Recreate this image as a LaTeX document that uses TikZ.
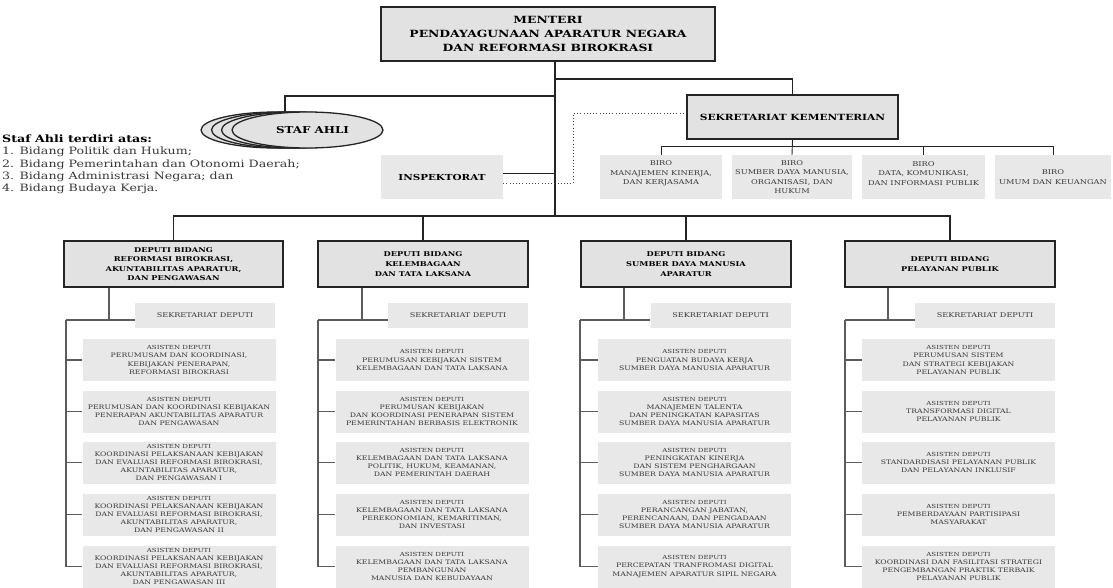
\documentclass[tikz,border=0pt]{standalone}
\usepackage{fontspec}
\setmainfont{DejaVu Serif}[FakeStretch=1.25]
\usetikzlibrary{backgrounds,shapes.geometric}
\definecolor{boxgray}{HTML}{E2E2E2}
\definecolor{lightbox}{HTML}{E8E8E8}
\definecolor{linedark}{HTML}{242424}
\definecolor{sublinec}{HTML}{5C5C5C}
\definecolor{txtgray}{HTML}{383838}
\begin{document}
\begin{tikzpicture}[x=1pt,y=-1pt,
  mainline/.style={draw=linedark,line width=1.8pt},
  subline/.style={draw=sublinec,line width=1.1pt},
  busline/.style={draw=linedark,line width=0.9pt},
  dotline/.style={draw=linedark!85,line width=0.9pt,dash pattern=on 0.9pt off 2.3pt},
  headbox/.style={draw=linedark,line width=1.8pt,fill=boxgray,inner sep=0pt,align=center},
  depbox/.style={headbox,minimum width=210pt,minimum height=46pt,
     font=\fontsize{6.6}{9.6}\selectfont\bfseries},
  stafell/.style={ellipse,draw=linedark,line width=1.3pt,fill=boxgray,
     minimum width=151pt,minimum height=36pt,inner sep=0pt},
  plainbox/.style={fill=lightbox,inner sep=0pt,align=center,text=txtgray},
  birobox/.style={plainbox,minimum height=44pt,font=\fontsize{6.6}{9.3}\selectfont},
  birotext/.style={inner sep=0pt,align=center,text=txtgray,font=\fontsize{6.6}{9.3}\selectfont},
  sekdbox/.style={plainbox,minimum width=140pt,minimum height=25pt,font=\fontsize{6.5}{8}\selectfont},
  asbox/.style={plainbox,minimum width=193pt,minimum height=42pt,font=\fontsize{6.2}{8.2}\selectfont},
]
\newcommand{\asd}{{\fontsize{5.6}{8.2}\selectfont ASISTEN DEPUTI}}
\useasboundingbox (0,0) rectangle (1113,587);

% ---------- top level ----------
\node[headbox,minimum width=334pt,minimum height=54pt,
  font=\fontsize{9.9}{14}\selectfont\bfseries] (menteri) at (548,34)
  {MENTERI\\PENDAYAGUNAAN APARATUR NEGARA\\DAN REFORMASI BIROKRASI};

\node[headbox,minimum width=211pt,minimum height=44pt,
  font=\fontsize{8.5}{10}\selectfont\bfseries] (sekr) at (792.5,117) {SEKRETARIAT KEMENTERIAN};

\node[stafell] (staf3) at (276.5,130) {};
\node[stafell] (staf2) at (287,130) {};
\node[stafell] (staf1) at (297,130) {};
\node[stafell,font=\fontsize{9.5}{11}\selectfont\bfseries] (staf) at (307.5,130) {\hspace*{10pt}STAF AHLI};

\node[anchor=west,align=left,inner sep=0pt,font=\fontsize{10.1}{12.3}\selectfont,text=txtgray] (stafnote) at (2,164.5)
  {\textbf{\color{black}Staf Ahli terdiri atas:}\\
   1. Bidang Politik dan Hukum;\\
   2. Bidang Pemerintahan dan Otonomi Daerah;\\
   3. Bidang Administrasi Negara; dan\\
   4. Bidang Budaya Kerja.};

\node[plainbox,minimum width=122pt,minimum height=44pt,text=black,
  font=\fontsize{8.3}{10}\selectfont\bfseries] (insp) at (442,177) {INSPEKTORAT};

\node[birobox,minimum width=122pt] (b1) at (661,177) {};
\node[birotext] (b1t) at (661,173.5) {BIRO\\MANAJEMEN KINERJA,\\DAN KERJASAMA};
\node[birobox,minimum width=120pt] (b2) at (792,177) {BIRO\\SUMBER DAYA MANUSIA,\\ORGANISASI, DAN\\HUKUM};
\node[birobox,minimum width=123pt] (b3) at (923.5,177) {};
\node[birotext] (b3t) at (923.5,173.5) {BIRO\\DATA, KOMUNIKASI,\\DAN INFORMASI PUBLIK};
\node[birobox,minimum width=116pt] (b4) at (1053,177) {BIRO\\UMUM DAN KEUANGAN};

% ---------- deputi ----------
\node[depbox,minimum width=219pt] (d1) at (173.5,264)
  {DEPUTI BIDANG\\REFORMASI BIROKRASI,\\AKUNTABILITAS APARATUR,\\DAN PENGAWASAN};
\node[depbox] (d2) at (423,264) {DEPUTI BIDANG\\KELEMBAGAAN\\DAN TATA LAKSANA};
\node[depbox] (d3) at (686,264) {DEPUTI BIDANG\\SUMBER DAYA MANUSIA\\APARATUR};
\node[depbox] (d4) at (950,264) {DEPUTI BIDANG\\PELAYANAN PUBLIK};

\node[sekdbox] (s1) at (205,315.5) {SEKRETARIAT DEPUTI};
\node[sekdbox] (s2) at (458,315.5) {SEKRETARIAT DEPUTI};
\node[sekdbox] (s3) at (720.5,315.5) {SEKRETARIAT DEPUTI};
\node[sekdbox] (s4) at (985,315.5) {SEKRETARIAT DEPUTI};

% column 1
\node[asbox] (a11) at (179,360) {\asd\\PERUMUSAM DAN KOORDINASI,\\KEBIJAKAN PENERAPAN,\\REFORMASI BIROKRASI};
\node[asbox] (a12) at (179,411.5) {\asd\\PERUMUSAN DAN KOORDINASI KEBIJAKAN\\PENERAPAN AKUNTABILITAS APARATUR\\DAN PENGAWASAN};
\node[asbox] (a13) at (179,462.5) {\asd\\KOORDINASI PELAKSANAAN KEBIJAKAN\\DAN EVALUASI REFORMASI BIROKRASI,\\AKUNTABILITAS APARATUR,\\DAN PENGAWASAN I};
\node[asbox] (a14) at (179,514.5) {\asd\\KOORDINASI PELAKSANAAN KEBIJAKAN\\DAN EVALUASI REFORMASI BIROKRASI,\\AKUNTABILITAS APARATUR,\\DAN PENGAWASAN II};
\node[asbox] (a15) at (179,566.5) {\asd\\KOORDINASI PELAKSANAAN KEBIJAKAN\\DAN EVALUASI REFORMASI BIROKRASI,\\AKUNTABILITAS APARATUR,\\DAN PENGAWASAN III};
% column 2
\node[asbox] (a21) at (432,360) {\asd\\PERUMUSAN KEBIJAKAN SISTEM\\KELEMBAGAAN DAN TATA LAKSANA};
\node[asbox] (a22) at (432,411.5) {\asd\\PERUMUSAN KEBIJAKAN\\DAN KOORDINASI PENERAPAN SISTEM\\PEMERINTAHAN BERBASIS ELEKTRONIK};
\node[asbox] (a23) at (432,462.5) {\asd\\KELEMBAGAAN DAN TATA LAKSANA\\POLITIK, HUKUM, KEAMANAN,\\DAN PEMERINTAH DAERAH};
\node[asbox] (a24) at (432,514.5) {\asd\\KELEMBAGAAN DAN TATA LAKSANA\\PEREKONOMIAN, KEMARITIMAN,\\DAN INVESTASI};
\node[asbox] (a25) at (432,566.5) {\asd\\KELEMBAGAAN DAN TATA LAKSANA\\PEMBANGUNAN\\MANUSIA DAN KEBUDAYAAN};
% column 3
\node[asbox] (a31) at (694.5,360) {\asd\\PENGUATAN BUDAYA KERJA\\SUMBER DAYA MANUSIA APARATUR};
\node[asbox] (a32) at (694.5,411.5) {\asd\\MANAJEMEN TALENTA\\DAN PENINGKATAN KAPASITAS\\SUMBER DAYA MANUSIA APARATUR};
\node[asbox] (a33) at (694.5,462.5) {\asd\\PENINGKATAN KINERJA\\DAN SISTEM PENGHARGAAN\\SUMBER DAYA MANUSIA APARATUR};
\node[asbox] (a34) at (694.5,514.5) {\asd\\PERANCANGAN JABATAN,\\PERENCANAAN, DAN PENGADAAN\\SUMBER DAYA MANUSIA APARATUR};
\node[asbox] (a35) at (694.5,566.5) {\asd\\PERCEPATAN TRANFROMASI DIGITAL\\MANAJEMEN APARATUR SIPIL NEGARA};
% column 4
\node[asbox] (a41) at (958.5,360) {\asd\\PERUMUSAN SISTEM\\DAN STRATEGI KEBIJAKAN\\PELAYANAN PUBLIK};
\node[asbox] (a42) at (958.5,411.5) {\asd\\TRANSFORMASI DIGITAL\\PELAYANAN PUBLIK};
\node[asbox] (a43) at (958.5,462.5) {\asd\\STANDARDISASI PELAYANAN PUBLIK\\DAN PELAYANAN INKLUSIF};
\node[asbox] (a44) at (958.5,514.5) {\asd\\PEMBERDAYAAN PARTISIPASI\\MASYARAKAT};
\node[asbox] (a45) at (958.5,566.5) {\asd\\KOORDINASI DAN FASILITASI STRATEGI\\PENGEMBANGAN PRAKTIK TERBAIK\\PELAYANAN PUBLIK};

% ---------- connectors ----------
\coordinate (bus) at (555,216);
\coordinate (jsek) at (555,79);
\coordinate (jstaf) at (555,96);
\coordinate (stafin) at (285,128);
\coordinate (jins) at (555,173);
\coordinate (dotlow) at (573.5,183);
\coordinate (dothigh) at (573.5,113);
\coordinate (bbus) at (792,146);
\coordinate (g1) at (109,320);  \coordinate (l1) at (66,320);
\coordinate (g2) at (362,320);  \coordinate (l2) at (318,320);
\coordinate (g3) at (624,320);  \coordinate (l3) at (580,320);
\coordinate (g4) at (888,320);  \coordinate (l4) at (845,320);

\begin{scope}[on background layer]
  \draw[mainline] (menteri.south -| bus) -- (bus);
  \draw[mainline] (jsek) -| (sekr.north);
  \draw[mainline] (jstaf) -| (stafin);
  \draw[busline] (jins) -- (jins -| insp.east);
  \draw[dotline] (dotlow -| insp.east) -- (dotlow) -- (dothigh) -- (dothigh -| sekr.west);
  \draw[busline] (sekr.south) -- (b2.north);
  \draw[busline] (b1.north) -- (b1.north |- bbus) -- (b4.north |- bbus) -- (b4.north);
  \draw[busline] (b3.north) -- (b3.north |- bbus);
  \draw[mainline] (d1.north) -- (d1.north |- bus) -- (d4.north |- bus) -- (d4.north);
  \draw[mainline] (d2.north) -- (d2.north |- bus);
  \draw[mainline] (d3.north) -- (d3.north |- bus);
  \foreach \c in {1,2,3,4}{
    \draw[subline] (d\c.south -| g\c) -- (g\c);
    \draw[subline] (l\c) -- (l\c -| s\c.west);
    \draw[subline] (l\c) |- (a\c5.west);
    \foreach \k in {1,2,3,4}{
      \draw[subline] (a\c\k.west) -- (a\c\k.west -| l\c);
    }
  }
\end{scope}
\end{tikzpicture}
\end{document}
